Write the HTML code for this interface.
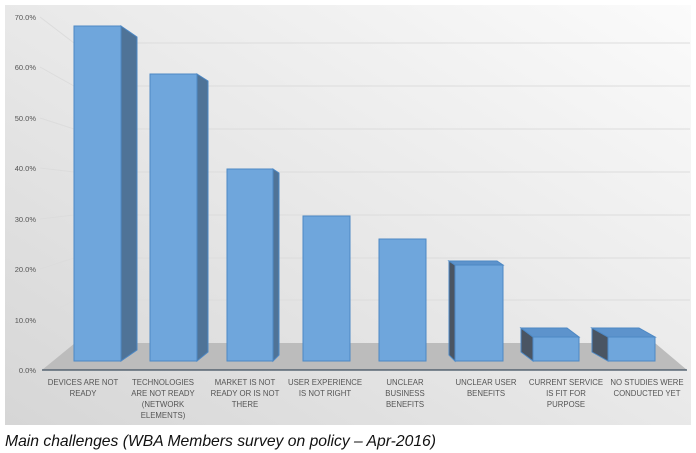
<!DOCTYPE html>
<html><head><style>
body{margin:0;background:#fff;}
svg{display:block;font-family:"Liberation Sans",sans-serif;}
</style></head><body>
<svg width="696" height="453" viewBox="0 0 696 453">
<defs>
<linearGradient id="bg" x1="1" y1="0" x2="0" y2="1">
<stop offset="0" stop-color="#fbfbfb"/><stop offset="1" stop-color="#d6d6d6"/>
</linearGradient>
</defs>
<rect x="5" y="5" width="686" height="420" fill="url(#bg)"/>
<g stroke="#dcdcdc" stroke-width="1" fill="none">
<path d="M40 17 L74 43 L690 43"/><path d="M40 67 L74 86 L690 86"/>
<path d="M40 118 L74 129 L690 129"/><path d="M40 168 L74 172 L690 172"/>
<path d="M40 219 L74 215 L690 215"/><path d="M40 269 L74 258 L690 258"/>
<path d="M40 320 L74 300 L690 300"/>
</g>
<polygon points="42,370 75,343 655,343 687,370" fill="#bcbcbc"/>
<line x1="42" y1="370" x2="687" y2="370" stroke="#3f4f5f" stroke-width="1.2"/>
<g font-size="7.5" fill="#555" text-anchor="end">
<text x="36" y="20">70.0%</text><text x="36" y="70">60.0%</text><text x="36" y="121">50.0%</text>
<text x="36" y="171">40.0%</text><text x="36" y="222">30.0%</text><text x="36" y="272">20.0%</text>
<text x="36" y="323">10.0%</text><text x="36" y="373">0.0%</text>
</g>
<g stroke="#4d88c4" stroke-width="1">
<polygon points="121,26 137,37 137,350 121,361" fill="#4f7397"/>
<rect x="74" y="26" width="47" height="335" fill="#6fa6dc"/>
<polygon points="197,74 208,81 208,352 197,361" fill="#4f7397"/>
<rect x="150" y="74" width="47" height="287" fill="#6fa6dc"/>
<polygon points="273,169 279,173 279,355 273,361" fill="#4f7397"/>
<rect x="227" y="169" width="46" height="192" fill="#6fa6dc"/>
<rect x="303" y="216" width="47" height="145" fill="#6fa6dc"/>
<rect x="379" y="239" width="47" height="122" fill="#6fa6dc"/>
<polygon points="449,261 455,265 455,361 449,355" fill="#4a5563"/>
<polygon points="449,261 497,261 503,265 455,265" fill="#5d93cc"/>
<rect x="455" y="265" width="48" height="96" fill="#6fa6dc"/>
<polygon points="521,328 533,337 533,361 521,352" fill="#4a5563"/>
<polygon points="521,328 567,328 579,337 533,337" fill="#5d93cc"/>
<rect x="533" y="337" width="46" height="24" fill="#6fa6dc"/>
<polygon points="592,328 608,337 608,361 592,352" fill="#4a5563"/>
<polygon points="592,328 639,328 655,337 608,337" fill="#5d93cc"/>
<rect x="608" y="337" width="47" height="24" fill="#6fa6dc"/>
</g>
<g font-size="7.8" fill="#555" text-anchor="middle">
<text x="83" y="385">DEVICES ARE NOT</text><text x="83" y="396">READY</text>
<text x="163" y="385">TECHNOLOGIES</text><text x="163" y="396">ARE NOT READY</text><text x="163" y="407">(NETWORK</text><text x="163" y="418">ELEMENTS)</text>
<text x="245" y="385">MARKET IS NOT</text><text x="245" y="396">READY OR IS NOT</text><text x="245" y="407">THERE</text>
<text x="325" y="385">USER EXPERIENCE</text><text x="325" y="396">IS NOT RIGHT</text>
<text x="405" y="385">UNCLEAR</text><text x="405" y="396">BUSINESS</text><text x="405" y="407">BENEFITS</text>
<text x="486" y="385">UNCLEAR USER</text><text x="486" y="396">BENEFITS</text>
<text x="566" y="385">CURRENT SERVICE</text><text x="566" y="396">IS FIT FOR</text><text x="566" y="407">PURPOSE</text>
<text x="647" y="385">NO STUDIES WERE</text><text x="647" y="396">CONDUCTED YET</text>
</g>
<text x="5" y="446" font-size="15.7" font-style="italic" fill="#111">Main challenges (WBA Members survey on policy – Apr-2016)</text>
</svg>
</body></html>
